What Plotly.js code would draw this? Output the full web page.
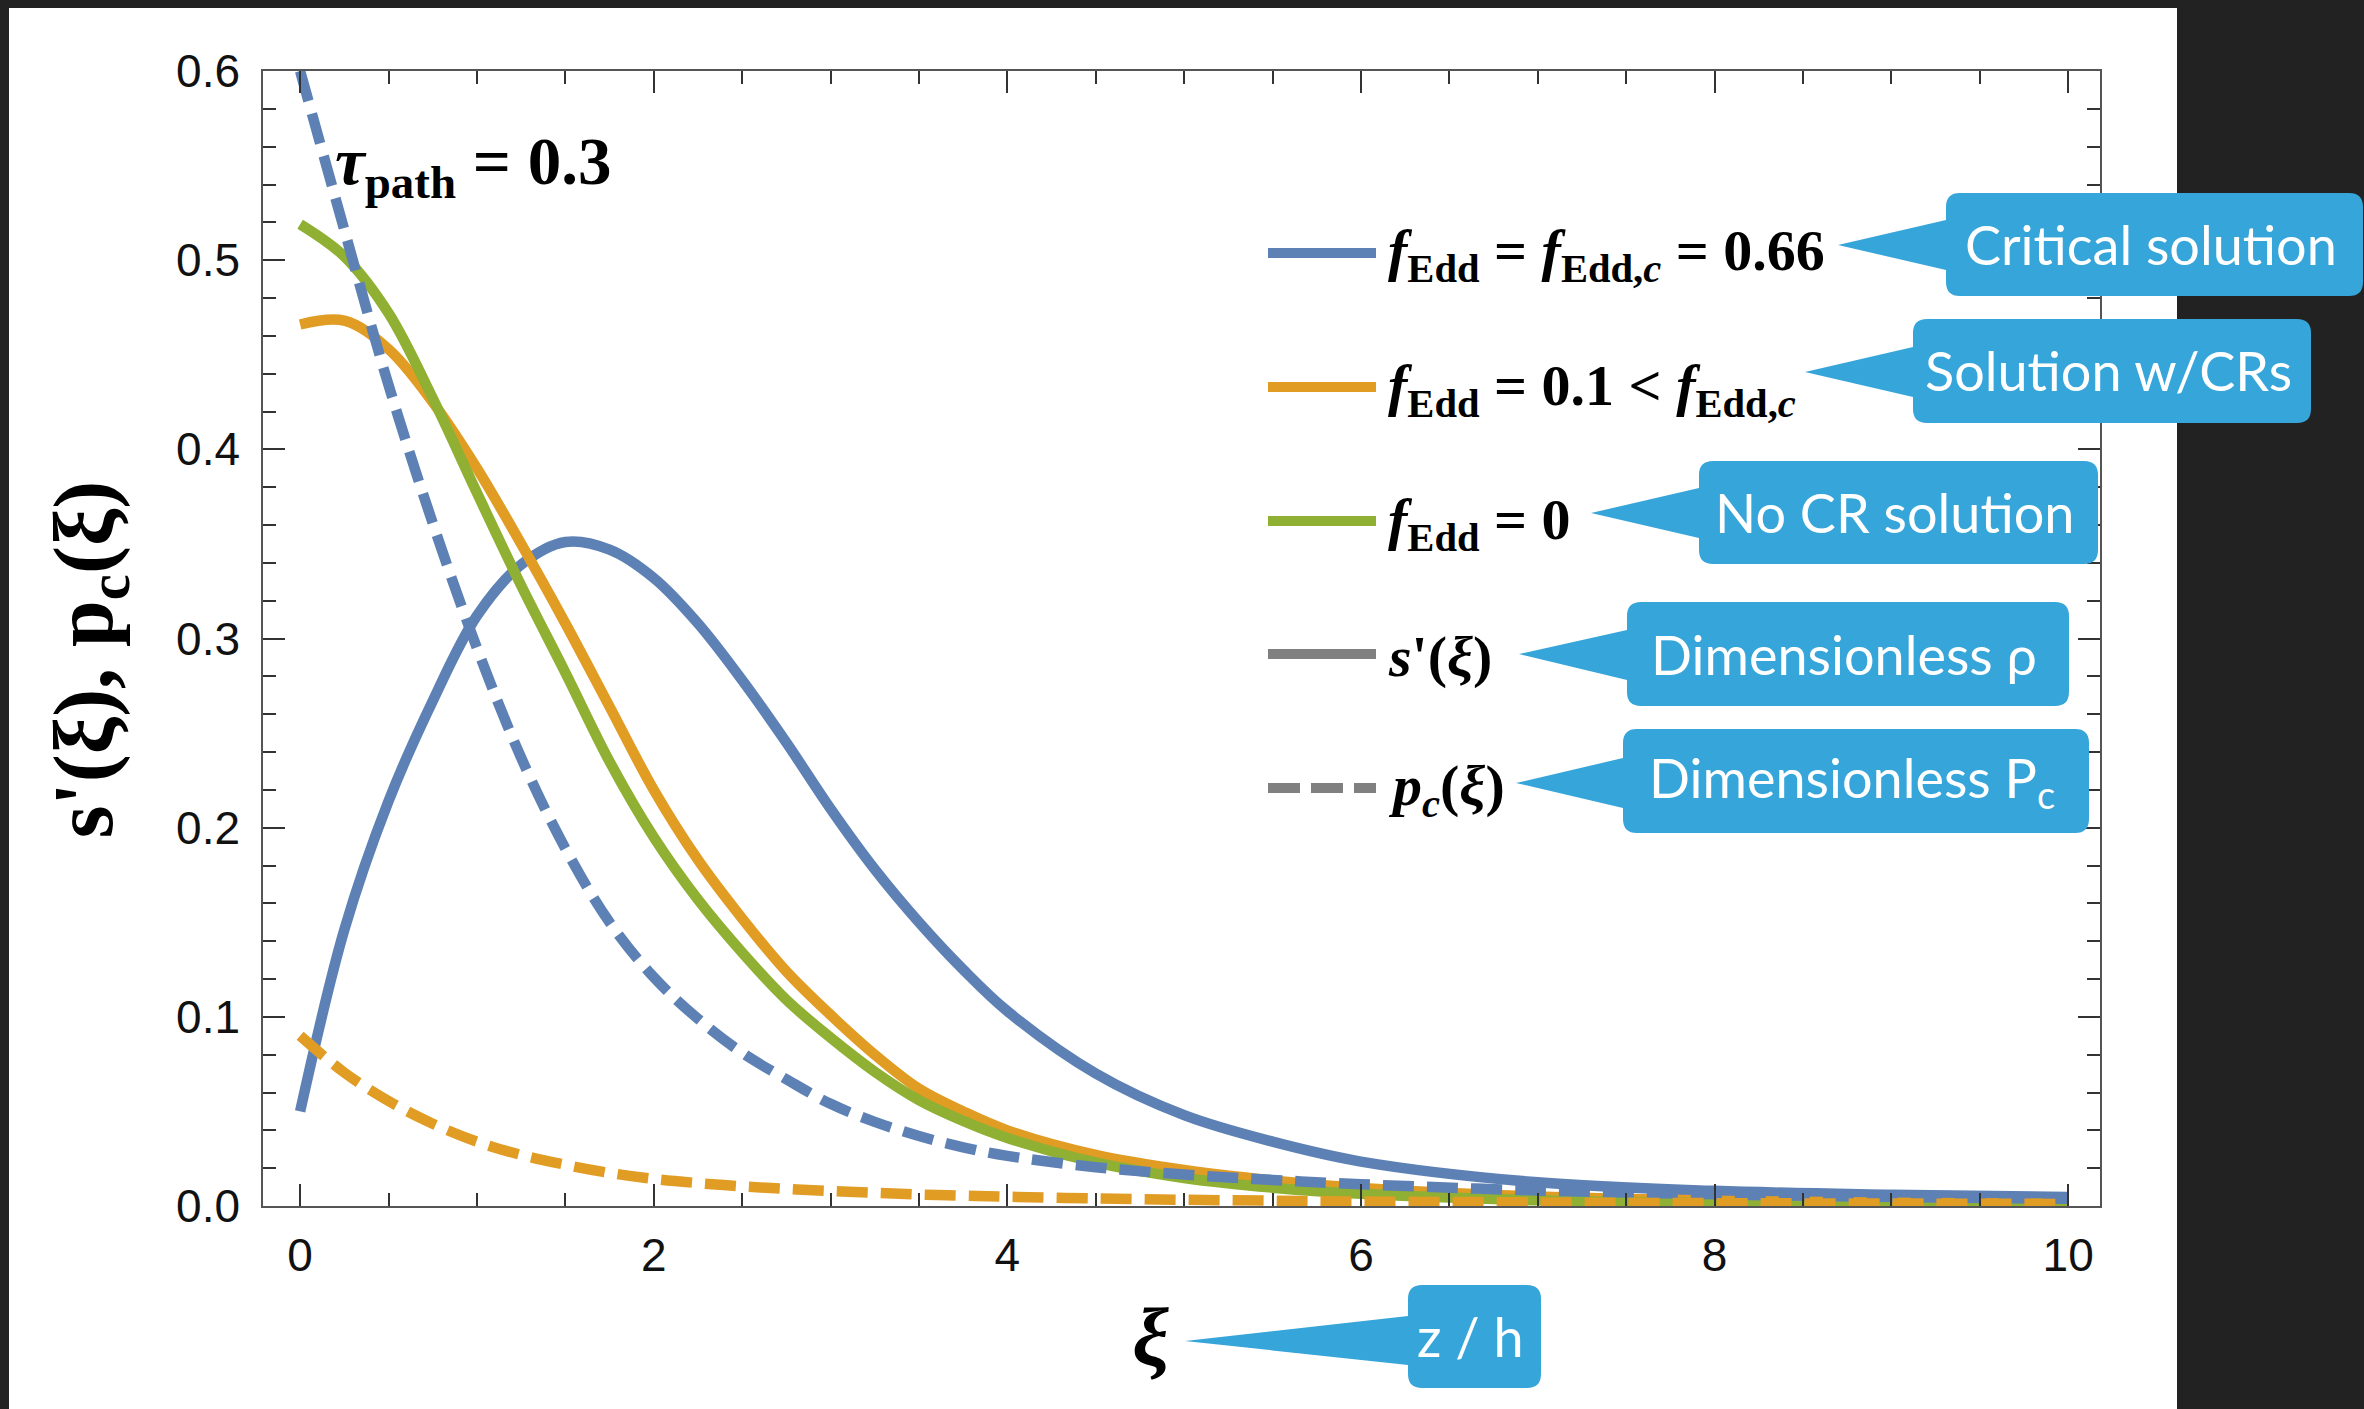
<!DOCTYPE html>
<html>
<head>
<meta charset="utf-8">
<script src="https://cdn.plot.ly/plotly-3.0.1.min.js"></script>
<style>
  html, body { margin: 0; padding: 0; background: #222222; }
  #chart { width: 2364px; height: 1409px; }
</style>
</head>
<body>
<div id="chart"></div>
<script>
// Dimensionless height above the disc, xi = z / h
const xi = [0, 0.25, 0.5, 0.75, 1, 1.25, 1.5, 1.75, 2, 2.25, 2.5, 2.75, 3, 3.25, 3.5, 3.75, 4, 4.5, 5, 5.5, 6, 7, 8, 9, 10];

// Critical solution, f_Edd = f_Edd,c = 0.66
const sCritical  = [0.050, 0.146, 0.214, 0.267, 0.312, 0.339, 0.351, 0.347, 0.332, 0.308, 0.278, 0.245, 0.210, 0.178, 0.150, 0.125, 0.103, 0.070, 0.048, 0.034, 0.0235, 0.0125, 0.008, 0.006, 0.0048];
const pcCritical = [0.600, 0.516, 0.434, 0.361, 0.295, 0.237, 0.189, 0.150, 0.121, 0.099, 0.081, 0.067, 0.054, 0.0445, 0.037, 0.031, 0.0265, 0.0205, 0.0166, 0.0138, 0.0115, 0.0082, 0.0062, 0.0048, 0.0038];

// Solution with cosmic rays, f_Edd = 0.1
const sWithCR  = [0.466, 0.468, 0.453, 0.425, 0.390, 0.350, 0.308, 0.264, 0.220, 0.183, 0.152, 0.124, 0.101, 0.080, 0.062, 0.050, 0.040, 0.027, 0.019, 0.0135, 0.0095, 0.005, 0.0028, 0.0017, 0.0011];
const pcWithCR = [0.090, 0.0705, 0.0555, 0.0435, 0.034, 0.027, 0.0218, 0.0175, 0.0143, 0.0121, 0.0104, 0.009, 0.0079, 0.007, 0.0061, 0.0055, 0.0049, 0.0040, 0.0033, 0.0028, 0.0024, 0.0019, 0.0015, 0.0013, 0.0011];

// No cosmic rays, f_Edd = 0
const sNoCR = [0.519, 0.502, 0.472, 0.427, 0.377, 0.328, 0.282, 0.235, 0.195, 0.162, 0.134, 0.109, 0.089, 0.071, 0.056, 0.045, 0.036, 0.023, 0.0148, 0.0097, 0.0065, 0.003, 0.0014, 0.0007, 0.0004];

const xTickVals = [0, 2, 4, 6, 8, 10];
const yTickVals = [0, 0.1, 0.2, 0.3, 0.4, 0.5, 0.6];

const legendLabels = [
  "<b><i>f</i><sub>Edd</sub> = <i>f</i><sub>Edd,<i>c</i></sub> = 0.66</b>",
  "<b><i>f</i><sub>Edd</sub> = 0.1 &lt; <i>f</i><sub>Edd,<i>c</i></sub></b>",
  "<b><i>f</i><sub>Edd</sub> = 0</b>",
  "<b><i>s</i>'(<i>ξ</i>)</b>",
  "<b><i>p<sub>c</sub></i>(<i>ξ</i>)</b>"
];
const calloutTexts = ["Critical solution", "Solution w/CRs", "No CR solution", "Dimensionless ρ", "Dimensionless P<sub>c</sub>", "z / h"];

const BLUE = "#5E81B5", ORANGE = "#E19C24", GREEN = "#8FB032", GREY = "#808080", BUBBLE = "#35A5DA";

// plot frame in page pixels, and helpers to turn pixels into paper fractions
const FL = 263, FR = 2100, FT = 71, FB = 1206;
const px = v => (v - FL) / (FR - FL);
const py = v => (FB - v) / (FB - FT);

function bubblePath(l, t, r, b, tipX, tipY, baseTop, baseBot, rad) {
  const P = (x, y) => px(x).toFixed(5) + "," + py(y).toFixed(5);
  return "M" + P(l + rad, t) +
    " L" + P(r - rad, t) + " Q" + P(r, t) + " " + P(r, t + rad) +
    " L" + P(r, b - rad) + " Q" + P(r, b) + " " + P(r - rad, b) +
    " L" + P(l + rad, b) + " Q" + P(l, b) + " " + P(l, b - rad) +
    " L" + P(l, baseBot) + " L" + P(tipX, tipY) + " L" + P(l, baseTop) +
    " L" + P(l, t + rad) + " Q" + P(l, t) + " " + P(l + rad, t) + " Z";
}

const DASH = "31px,13px";
const LW = 10.5;
const lineStyle = (color, dash) => ({ color: color, width: LW, dash: dash || "solid", shape: "spline", smoothing: 1 });
const traces = [
  { x: xi, y: sCritical, mode: "lines", line: lineStyle(BLUE) },
  { x: xi, y: sWithCR, mode: "lines", line: lineStyle(ORANGE) },
  { x: xi, y: sNoCR, mode: "lines", line: lineStyle(GREEN) },
  { x: xi, y: pcCritical, mode: "lines", line: lineStyle(BLUE, DASH) },
  { x: xi, y: pcWithCR, mode: "lines", line: lineStyle(ORANGE, DASH) }
];

// white sheet behind the figure
const shapes = [
  { type: "rect", xref: "paper", yref: "paper", x0: px(9), x1: px(2177), y0: py(1409), y1: py(8),
    fillcolor: "#ffffff", line: { width: 0 }, layer: "below" }
];

// legend samples
const legendY = [253, 387, 521, 654, 788];
const legendColors = [BLUE, ORANGE, GREEN, GREY, GREY];
legendY.forEach((yy, i) => {
  shapes.push({ type: "line", xref: "paper", yref: "paper",
    x0: px(1268), x1: px(1376), y0: py(yy), y1: py(yy),
    line: { color: legendColors[i], width: 10, dash: i === 4 ? "32px,11px" : "solid" } });
});

// speech bubbles: [left, top, right, bottom, tipX, tipY, baseTop, baseBottom]
const bubbles = [
  [1946, 193, 2363, 296, 1838, 245, 220, 270],
  [1913, 319, 2311, 423, 1805, 372, 347, 397],
  [1699, 461, 2098, 564, 1591, 513, 488, 538],
  [1627, 602, 2069, 706, 1519, 654, 630, 680],
  [1623, 729, 2089, 833, 1516, 783, 758, 808],
  [1408, 1285, 1541, 1388, 1185, 1341, 1316, 1365]
];
bubbles.forEach(bb => {
  shapes.push({ type: "path", xref: "paper", yref: "paper",
    path: bubblePath(bb[0], bb[1], bb[2], bb[3], bb[4], bb[5], bb[6], bb[7], 14),
    fillcolor: BUBBLE, line: { width: 0 }, layer: "above" });
});

const SERIF = "Liberation Serif, Times New Roman, serif";
const annotations = [];
legendLabels.forEach((txt, i) => {
  annotations.push({ xref: "paper", yref: "paper", x: px(1386), y: py(legendY[i] + 2),
    xanchor: "left", yanchor: "middle", showarrow: false, text: txt,
    font: { family: SERIF, size: 58, color: "#000" } });
});
bubbles.forEach((bb, i) => {
  annotations.push({ xref: "paper", yref: "paper", x: px((bb[0] + bb[2]) / 2 - 4), y: py((bb[1] + bb[3]) / 2),
    xanchor: "center", yanchor: "middle", showarrow: false, text: calloutTexts[i],
    font: { family: "Lato, Open Sans, sans-serif", size: 54, color: "#ffffff" } });
});
annotations.push({ xref: "paper", yref: "paper", x: px(333), y: py(166),
  xanchor: "left", yanchor: "middle", showarrow: false,
  text: "<b><i>τ</i><sub>path</sub> = 0.3</b>",
  font: { family: SERIF, size: 67, color: "#000" } });

const axisCommon = {
  showline: true, linecolor: "#555555", linewidth: 1.5, mirror: "allticks",
  ticks: "inside", ticklen: 22, tickwidth: 1.5, tickcolor: "#333333",
  showgrid: false, zeroline: false,
  tickfont: { family: "Liberation Sans, Arial, sans-serif", size: 46, color: "#111111" }
};

const layout = {
  width: 2364, height: 1409,
  paper_bgcolor: "#222222", plot_bgcolor: "#ffffff",
  margin: { l: FL, r: 2364 - FR, t: FT, b: 1409 - FB, pad: 0 },
  showlegend: false,
  xaxis: Object.assign({}, axisCommon, {
    range: [-0.21, 10.18], tickmode: "array", tickvals: xTickVals, ticktext: xTickVals.map(String),
    ticklabelstandoff: 8,
    minor: { dtick: 0.5, ticks: "inside", ticklen: 13, tickwidth: 1.5, tickcolor: "#333333" },
    title: { text: "<b><i>ξ</i></b>&nbsp;&nbsp;&nbsp;", standoff: 28,
      font: { family: SERIF, size: 82, color: "#000" } }
  }),
  yaxis: Object.assign({}, axisCommon, {
    range: [0, 0.6], tickmode: "array", tickvals: yTickVals, ticktext: yTickVals.map(v => v.toFixed(1)),
    ticklabelstandoff: 12,
    minor: { dtick: 0.02, ticks: "inside", ticklen: 13, tickwidth: 1.5, tickcolor: "#333333" },
    title: { text: "<b>s'(ξ), p<sub>c</sub>(ξ)</b>&nbsp;&nbsp;", standoff: 36,
      font: { family: SERIF, size: 84, color: "#000" } }
  }),
  shapes: shapes,
  annotations: annotations
};

Plotly.newPlot("chart", traces, layout, { displayModeBar: false });
</script>
</body>
</html>
